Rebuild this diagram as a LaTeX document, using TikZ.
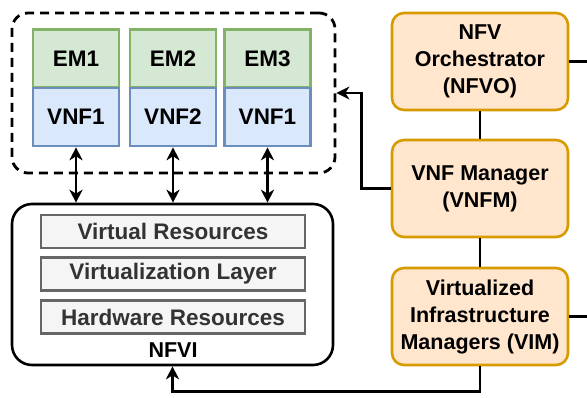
\documentclass[tikz,border=0pt]{standalone}
\usepackage{fontspec}
\setmainfont{Liberation Sans}
\usetikzlibrary{arrows.meta}
\definecolor{emfill}{HTML}{D5E8D4}
\definecolor{emline}{HTML}{82B366}
\definecolor{vnffill}{HTML}{DAE8FC}
\definecolor{vnfline}{HTML}{6C8EBF}
\definecolor{mgmtfill}{HTML}{FFE6CC}
\definecolor{mgmtline}{HTML}{D79B00}
\definecolor{layerfill}{HTML}{F5F5F5}
\definecolor{layerline}{HTML}{666666}
\definecolor{layertext}{HTML}{333333}

\begin{document}
\begin{tikzpicture}[x=1pt,y=-1pt,line width=2.6pt,
  font=\fontsize{21.5}{27}\selectfont\bfseries,
  >={Stealth[length=13pt,width=13pt,inset=4pt]},
  embox/.style={draw=emline,fill=emfill,minimum width=86pt,minimum height=58pt,inner sep=0pt,
    font=\fontsize{22.5}{27}\selectfont\bfseries},
  vnfbox/.style={draw=vnfline,fill=vnffill,minimum width=86pt,minimum height=58pt,inner sep=0pt,
    font=\fontsize{22.5}{27}\selectfont\bfseries},
  mgmt/.style={draw=mgmtline,fill=mgmtfill,rounded corners=12pt,minimum width=176pt,minimum height=97pt,
    align=center,inner sep=0pt},
  layer/.style={draw=layerline,fill=layerfill,text=layertext,minimum width=264pt,minimum height=33pt,inner sep=0pt,
    font=\fontsize{22.5}{27}\selectfont\bfseries}]

\useasboundingbox (0,0) rectangle (587,398);

\node[draw,dashed,dash pattern=on 9pt off 6pt,line width=2.8pt,rounded corners=16pt,
  minimum width=323pt,minimum height=160pt] (vnfs) at (173.5,93) {};
\node[embox] (em1) at (76,58.5) {EM1};
\node[embox] (em2) at (173,58.5) {EM2};
\node[embox] (em3) at (267.5,58.5) {EM3};
\node[vnfbox] (vnf1) at (76,117) {VNF1};
\node[vnfbox] (vnf2) at (173,117) {VNF2};
\node[vnfbox] (vnf3) at (267.5,117) {VNF1};

\node[draw,rounded corners=20pt,minimum width=321pt,minimum height=161pt] (nfvi) at (172.5,284.5) {};
\node[layer] (virt) at (173,231.5) {Virtual Resources};
\node[layer] (vlayer) at (173,274) {Virtualization Layer};
\node[layer] (hw) at (173,317) {Hardware Resources};
\node (nfvilabel) at (173,350) {NFVI};

\node[mgmt] (nfvo) at (480,61.5) {NFV\\Orchestrator\\(NFVO)};
\node[mgmt] (vnfm) at (480,188.5) {VNF Manager\\(VNFM)};
\node[mgmt] (vim) at (480,316.5) {Virtualized\\Infrastructure\\Managers (VIM)};

\draw[<->] (vnf1.south) -- (vnf1.south |- nfvi.north);
\draw[<->] (vnf2.south) -- (vnf2.south |- nfvi.north);
\draw[<->] (vnf3.south) -- (vnf3.south |- nfvi.north);

\draw (nfvo) -- (vnfm);
\draw (vnfm) -- (vim);
\draw[->] (vnfm.west) -- ++(-29,0) |- (vnfs.east);
\draw[->] (vim.south) -- ++(0,25) -| (nfvi.south);

\coordinate (nfvoout) at (587,61.5);
\coordinate (vimout) at (587,316.5);
\draw (nfvo.east) -- (nfvoout);
\draw (vim.east) -- (vimout);
\end{tikzpicture}
\end{document}
